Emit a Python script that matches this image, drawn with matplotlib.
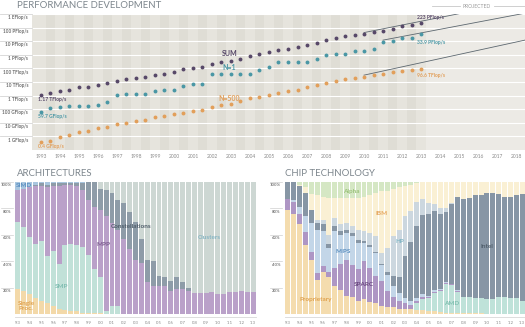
import numpy as np
import matplotlib
matplotlib.use('Agg')
import matplotlib.pyplot as plt
import matplotlib.transforms as mtransforms

matplotlib.rcParams['font.family'] = ['Lato', 'DejaVu Sans']

# TOP500 lists: June (x.0) and November (x.5), 1993 .. June 2013
lists = [y + h for y in range(1993, 2014) for h in (0.0, 0.5)][:-1]

# performance, GFlop/s
perf_sum = [1128, 1493, 2317, 2732, 3994, 4497, 5727, 7998, 12169, 16132,
            19889, 24800, 33700, 40000, 50800, 88000, 108000, 134000, 222000, 293000,
            375000, 528000, 813000, 1127000, 1690000, 2300000, 2790000, 3540000, 4920000, 6970000,
            11700000, 16950000, 22600000, 27950000, 32400000, 44160000, 58880000, 74200000,
            123400000, 162000000, 223000000]
perf_n1 = [59.7, 124, 143.4, 170, 170, 170, 220.4, 368.2, 1068, 1338,
           1338, 1338, 2121, 2379, 2379, 4938, 7226, 7226, 35860, 35860,
           35860, 35860, 35860, 70720, 136800, 280600, 280600, 280600, 280600, 478200,
           1026000, 1105000, 1105000, 1759000, 1759000, 2566000, 8162000, 10510000,
           16320000, 17590000, 33860000]
perf_n500 = [0.42, 0.47, 0.9, 1.2, 2.0, 2.6, 3.9, 5.3, 7.7, 9.5,
             13.4, 17.1, 24.7, 33.1, 43.8, 55.1, 67.8, 94.3, 134.3, 195.8,
             245.1, 403.4, 624, 850.6, 1166, 1646, 2026, 2737, 4005, 5929,
             9000, 12640, 17100, 20050, 24670, 31120, 39090, 50940, 60820, 76500, 96620]

# projection lines (year, GFlop/s)
proj_sum = ([2010.0, 2018.5], [4.3e7, 9.9e9])
proj_n1 = ([2011.0, 2018.5], [1.2e7, 1.17e9])
proj_n500 = ([2010.0, 2018.5], [3.2e4, 1.23e7])

ylabels = ['1 GFlop/s', '10 GFlop/s', '100 GFlop/s', '1 TFlop/s', '10 TFlop/s',
           '100 TFlop/s', '1 PFlop/s', '10 PFlop/s', '100 PFlop/s', '1 EFlop/s']
xyears = list(range(1993, 2019))

# architectures, % of systems
arch_names = ['Single Proc.', 'SMP', 'MPP', 'Constellations', 'Clusters', 'SIMD']
arch_single = [19, 17.5, 15, 12.5, 10, 8, 6, 4, 3, 2, 2, 1, 1, 0.5, 0.5, 0] + [0] * 25
arch_smp = [51, 48.5, 43, 40.5, 45, 36, 42, 34, 49, 51, 50, 50, 44, 33.5, 27.5, 2.5, 6, 6] + [0] * 23
arch_mpp = [24, 29, 38, 44, 42, 52, 49, 59, 46, 45, 45, 43, 41, 47, 51, 71.5, 63, 58, 57, 49,
            41, 39, 24, 21, 21, 21, 17.5, 19, 19, 17.5, 16, 16, 16, 16.5, 15, 15.5, 17, 17, 17.5, 17, 16.5]
arch_const = [0, 0, 0, 1, 2, 2, 2, 2, 1, 1, 2.5, 5.5, 14, 19, 16, 20, 23, 22, 27, 28,
              29, 18, 17, 19, 8, 7, 7.5, 9, 5, 2.5] + [0] * 11
arch_clusters = [0] * 14 + [5, 6, 8, 14, 16, 23, 30, 43, 59, 60, 71, 72, 75, 72, 76, 80,
                            84, 84, 84, 83.5, 85, 84.5, 83, 83, 82.5, 83, 83.5]
arch_simd = [6, 5, 4, 2, 1, 2, 1, 1, 1, 1, 0.5, 0.5] + [0] * 29

# chip technology, % of systems
chip_prop = [79, 76, 68, 52, 41, 26, 32, 28, 21, 18, 14, 13, 10, 11, 9, 8, 6, 5.5, 5, 4,
             4, 3.5, 3, 3, 2, 2, 1.5, 1, 1, 1, 1, 1, 1, 0.5, 0, 0, 0, 0, 0, 0, 0]
chip_amd = [0] * 22 + [5, 8, 10, 14, 16, 22, 21, 16, 12, 12, 11, 12, 11, 11, 13, 13, 12, 12, 10]
chip_sparc = [8, 9, 8, 10, 6, 5, 4, 4, 14, 20, 27, 24, 24, 29, 26, 21, 19, 12, 8, 6,
              4, 3, 2, 2, 1, 1, 1, 0.5, 0.5, 0.5] + [0] * 11
chip_mips = [0, 1, 5, 12, 22, 33, 27, 18, 28, 22, 20, 22, 20, 14, 16, 17, 12, 12, 8, 6,
             4, 3, 2, 2, 1, 1, 0.5, 0.5, 0.5, 0.5] + [0] * 11
chip_intel = [13, 14, 16, 18, 10, 5, 5, 3, 4, 3, 3, 2, 2, 1, 1, 1, 1, 2, 8, 12,
              32, 45, 55, 60, 62, 60, 57, 53, 60, 71, 74, 75, 78, 78, 81, 81, 77.6, 76, 77, 78, 81]
chip_hp = [0, 0, 0, 0, 0, 2, 3, 7, 6, 5, 5, 6, 8, 8, 9, 12, 8, 18.5, 30, 36,
           30, 23.5, 18, 12, 8, 5, 4, 3, 1] + [0] * 12
chip_ibm = [0, 0, 1, 4, 12, 19, 18, 28, 15, 20, 19, 21, 24, 26, 29, 33, 47, 43, 36, 32,
            23, 20, 14, 13, 16, 17, 20, 20, 16, 11, 13, 12, 10, 9.5, 8, 8, 9.4, 11, 11, 10, 9]
chip_alpha = [0, 0, 2, 4, 9, 10, 11, 12, 12, 12, 12, 12, 12, 11, 10, 8, 7, 7, 5, 4,
              3, 2, 1] + [0] * 18

year_ticks = ["'%02d" % (y % 100) for y in range(1993, 2014)]

W, H = 525.0, 327.0
fig = plt.figure(figsize=(W / 100, H / 100), dpi=100)
fig.patch.set_facecolor('white')

title_kw = dict(fontsize=6.9, color='#7d868d', va='center', ha='left')
fig.text(17 / W, 1 - 6 / H, 'PERFORMANCE DEVELOPMENT', **title_kw)
fig.text(17 / W, 1 - 173 / H, 'ARCHITECTURES', **title_kw)
fig.text(285 / W, 1 - 173 / H, 'CHIP TECHNOLOGY', **title_kw)

# ---------------- performance development ----------------
ax = fig.add_axes([32 / W, 1 - 150 / H, (W - 32) / W, 136 / H])
ax.set_yscale('log')
ax.set_ylim(0.1, 1e9)
ax.set_xlim(1992.53, 2018.47)
for sp in ax.spines.values():
    sp.set_visible(False)

for k, t in enumerate(lists):
    lo = t - 0.25 if k > 0 else 1992.53
    ax.axvspan(lo, t + 0.25, color='#e6e4dd' if k % 2 == 0 else '#dfddd5', lw=0, zorder=0)
ax.axvspan(2013.25, 2018.47, color='#eceae5', lw=0, zorder=0)

trans = mtransforms.blended_transform_factory(ax.transAxes, ax.transData)
for d, lab in enumerate(ylabels):
    ax.axhline(10.0 ** d, color='white', lw=0.8, zorder=1)
    ax.plot([-32 / (W - 32), 0], [10.0 ** d] * 2, transform=trans, clip_on=False,
            color='#d5d5d5', lw=0.6)
    ax.text(-4 / (W - 32), 10.0 ** d * 0.82, lab, transform=trans, ha='right', va='top',
            fontsize=3.3, color='#6d6d6d', fontweight='bold')

ax.set_xticks(xyears)
ax.set_xticklabels([str(y) for y in xyears])
ax.tick_params(axis='x', length=0, pad=3, labelsize=3.5, labelcolor='#8a8a8a')
ax.set_yticks([])
ax.minorticks_off()

c_sum, c_n1, c_n500 = '#574868', '#4a97a5', '#e29f5a'
for (px, py) in (proj_sum, proj_n1, proj_n500):
    ax.plot(px, py, color='#5c676f', lw=0.6, zorder=2)
ax.plot(lists, perf_sum, 'o', ms=2.8, color=c_sum, mec='none', zorder=3)
ax.plot(lists, perf_n1, 'o', ms=2.8, color=c_n1, mec='none', zorder=3)
ax.plot(lists, perf_n500, 'o', ms=2.8, color=c_n500, mec='none', zorder=3)

lab_kw = dict(fontsize=5, fontweight='bold', ha='center', va='center')
ax.text(2002.95, 10 ** 6.13, 'SUM', color=c_sum, **lab_kw)
ax.text(2002.9, 10 ** 5.03, 'N=1', color=c_n1, **lab_kw)
ax.text(2002.9, 10 ** 2.82, 'N=500', color=c_n500, **lab_kw)

val_kw = dict(fontsize=3.6, fontweight='bold', ha='left', va='center')
ax.text(1992.84, 10 ** 2.68, '1.17 TFlop/s', color=c_sum, **val_kw)
ax.text(1992.84, 10 ** 1.43, '59.7 GFlop/s', color=c_n1, **val_kw)
ax.text(1992.84, 10 ** -0.77, '0.4 GFlop/s', color=c_n500, **val_kw)
ax.text(2012.8, 10 ** 8.77, '223 PFlop/s', color=c_sum, **val_kw)
ax.text(2012.8, 10 ** 6.93, '33.9 PFlop/s', color=c_n1, **val_kw)
ax.text(2012.8, 10 ** 4.51, '96.6 TFlop/s', color=c_n500, **val_kw)

fig.text(477 / W, 1 - 6 / H, 'PROJECTED', fontsize=3.6, color='#9a9a9a', ha='center', va='center')
fig.add_artist(plt.Line2D([432 / W, 460 / W], [1 - 6 / H] * 2, color='#c8c8c8', lw=0.6))
fig.add_artist(plt.Line2D([494 / W, 1.0], [1 - 6 / H] * 2, color='#c8c8c8', lw=0.6))


# ---------------- stacked bar panels ----------------
def stacked_panel(rect, series, colors, label_x):
    bx = fig.add_axes(rect)
    idx = np.arange(len(series[0]))
    bottom = np.zeros(len(idx))
    for vals, col in zip(series, colors):
        vals = np.array(vals, dtype=float)
        bx.bar(idx, vals, bottom=bottom, width=0.84, color=col, linewidth=0)
        bottom += vals
    bx.set_xlim(-0.5, len(idx) - 0.5)
    bx.set_ylim(0, 100)
    for sp in bx.spines.values():
        sp.set_visible(False)
    bx.set_yticks([])
    bx.set_xticks(idx[::2])
    bx.set_xticklabels(year_ticks)
    bx.tick_params(axis='x', length=0, pad=5, labelsize=3.2, labelcolor='#8a8a8a')
    bx.plot([-0.5, len(idx) - 0.5], [-2.5, -2.5], clip_on=False, color='#d8d8d8', lw=0.6)
    tr = mtransforms.blended_transform_factory(fig.transFigure, bx.transData)
    ltr = mtransforms.blended_transform_factory(bx.transAxes, bx.transData)
    x0 = (label_x[0] - rect[0] * W) / (rect[2] * W)
    x1 = (label_x[1] - rect[0] * W) / (rect[2] * W)
    for p in (100, 80, 60, 40, 20):
        bx.plot([x0, x1], [p, p], transform=ltr, clip_on=False, color='#cfcfcf', lw=0.5)
        bx.text(label_x[1] / W - 1.5 / W, p - 1.0, '%d%%' % p, transform=tr, ha='right', va='top',
                fontsize=3.1, color='#7a7a7a', fontweight='bold')
    return bx


arch_colors = ['#f3d9a9', '#c1e1d8', '#baa1c9', '#8e9ca8', '#cdd7d3', '#a9c6df']
ax2 = stacked_panel([15 / W, 1 - 314 / H, 241 / W, 132 / H],
                    [arch_single, arch_smp, arch_mpp, arch_const, arch_clusters, arch_simd],
                    arch_colors, (1, 13))
ak = dict(fontsize=4.6, fontweight='bold', ha='center', va='center')
ax2.text(1.0, 97.3, 'SIMD', color='#5a8fc2', **ak)
ax2.text(14.5, 53, 'MPP', color='#7b5a8f', **ak)
ax2.text(19.3, 66, 'Constellations', color='#4f5d6a', **ak)
ax2.text(32.6, 58, 'Clusters', color='#86b5c3', **ak)
ax2.text(7.4, 21, 'SMP', color='#7fbdb1', **ak)
ax2.text(1.4, 6, 'Single\nProc.', color='#e0a24f', linespacing=0.9, **ak)

chip_colors = ['#f4dcae', '#bfe2d9', '#ae96c4', '#c3d6e8', '#8796a5', '#ccd7df', '#faf0d4', '#d5e7c4']
ax3 = stacked_panel([285 / W, 1 - 314 / H, 240 / W, 132 / H],
                    [chip_prop, chip_amd, chip_sparc, chip_mips, chip_intel, chip_hp, chip_ibm, chip_alpha],
                    chip_colors, (270, 282))
ax3.text(10.9, 93, 'Alpha', color='#9cc37c', **ak)
ax3.text(16, 76, 'IBM', color='#e6a860', **ak)
ax3.text(19.1, 55, 'HP', color='#7fb4c4', **ak)
ax3.text(9.5, 47, 'MIPS', color='#5a8fc0', **ak)
ax3.text(34, 51, 'Intel', color='#4f5d6a', **ak)
ax3.text(13, 22, 'SPARC', color='#6b4a80', **ak)
ax3.text(4.8, 11, 'Proprietary', color='#e0a24f', **ak)
ax3.text(28, 8, 'AMD', color='#7fc0b0', **ak)

plt.savefig('out.png', dpi=100, facecolor='white')
